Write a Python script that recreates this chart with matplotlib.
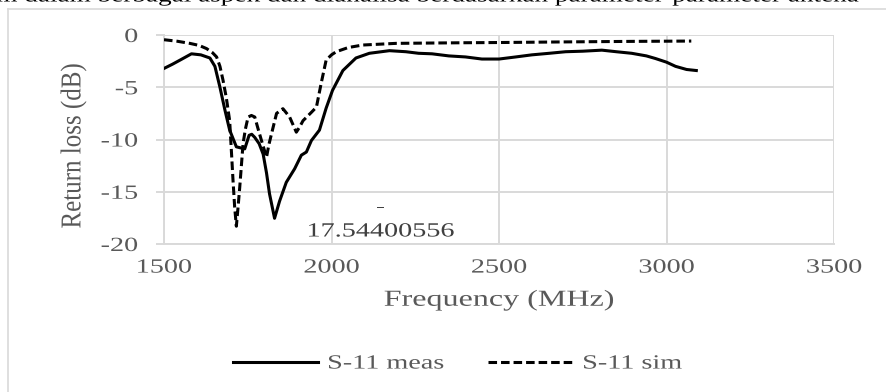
import matplotlib
matplotlib.use("Agg")
import matplotlib.pyplot as plt
from matplotlib.patheffects import AbstractPathEffect
from matplotlib.transforms import Affine2D
from matplotlib.lines import Line2D

# ---------------- data ----------------
freq_meas = [1500, 1525, 1548, 1565, 1582, 1610, 1637, 1652, 1667, 1682, 1696,
             1716, 1741, 1754, 1762, 1771, 1784, 1796, 1806, 1815, 1830, 1845,
             1865, 1890, 1910, 1925, 1940, 1964, 1984, 2003, 2034, 2073, 2113,
             2173, 2222, 2260, 2300, 2350, 2400, 2449, 2500, 2550, 2598, 2650,
             2699, 2750, 2807, 2850, 2896, 2940, 2967, 3000, 3027, 3060, 3089]
s11_meas = [-3.2, -2.8, -2.4, -2.1, -1.8, -1.9, -2.2, -3.0, -5.0, -7.2, -9.1,
            -10.7, -10.9, -9.6, -9.5, -9.8, -10.4, -11.4, -13.2, -15.2, -17.54, -15.9,
            -14.1, -12.8, -11.5, -11.2, -10.1, -9.1, -7.0, -5.3, -3.4, -2.2, -1.75,
            -1.5, -1.6, -1.75, -1.8, -2.0, -2.1, -2.3, -2.3, -2.1, -1.9, -1.75,
            -1.6, -1.55, -1.45, -1.6, -1.75, -2.0, -2.25, -2.6, -3.0, -3.3, -3.4]

freq_sim = [1500, 1540, 1577, 1605, 1627, 1645, 1657, 1667, 1676, 1686, 1696,
            1701, 1706, 1711, 1716, 1721, 1726, 1731, 1736, 1743, 1751, 1761,
            1771, 1781, 1791, 1806, 1813, 1821, 1836, 1855, 1875, 1895, 1905,
            1915, 1940, 1955, 1969, 1984, 2000, 2014, 2050, 2093, 2193, 2292,
            2400, 2500, 2700, 2900, 3074]
s11_sim = [-0.45, -0.6, -0.8, -1.0, -1.3, -1.7, -2.1, -3.0, -4.3, -6.0, -8.2,
           -11.0, -13.9, -16.5, -18.3, -16.5, -14.6, -12.5, -10.4, -9.0, -7.85, -7.7,
           -7.85, -9.0, -10.1, -11.7, -10.5, -9.45, -7.5, -7.05, -7.85, -9.3, -8.8,
           -8.2, -7.4, -6.9, -4.65, -2.4, -1.9, -1.6, -1.2, -0.96, -0.8, -0.77,
           -0.74, -0.72, -0.66, -0.61, -0.58]

series_names = ["S-11 meas", "S-11 sim"]
x_ticks = [1500, 2000, 2500, 3000, 3500]
y_ticks = [0, -5, -10, -15, -20]
x_title = "Frequency (MHz)"
y_title = "Return loss (dB)"
label_freq = 2147
label_lines = ["-", "17.54400556"]
label_y = [-16.55, -18.85]
top_text = "m dalam berbagai aspek dan dianalisa berdasarkan parameter-parameter antena"


class Stretch(AbstractPathEffect):
    """Stretch text glyphs (the reference image is horizontally stretched)."""

    def __init__(self, sx=1.4, sy=1.0, pivot="center"):
        super().__init__()
        self.sx, self.sy, self.pivot = sx, sy, pivot

    def draw_path(self, renderer, gc, tpath, affine, rgbFace=None):
        if len(tpath.vertices) == 0:
            return
        ext = tpath.get_extents()
        if self.pivot == "left":
            px = ext.x0
        elif self.pivot == "right":
            px = ext.x1
        else:
            px = 0.5 * (ext.x0 + ext.x1)
        py = 0.5 * (ext.y0 + ext.y1)
        t = (Affine2D().translate(-px, -py).scale(self.sx, self.sy)
             .translate(px, py) + affine)
        renderer.draw_path(gc, tpath, t, rgbFace)


plt.rcParams['font.family'] = ['Liberation Serif', 'DejaVu Serif']
plt.rcParams['axes.unicode_minus'] = False

W, H = 887, 392
fig = plt.figure(figsize=(W / 100, H / 100), dpi=100)
ax = fig.add_axes([164 / W, 1 - 244 / H, 670 / W, 209 / H])

GRID = '#d9d9d9'
TXT = '#595959'

ax.plot(freq_meas, s11_meas, color='black', lw=2.2, solid_joinstyle='round',
        label=series_names[0], zorder=3)
ax.plot(freq_sim, s11_sim, color='black', lw=2.2, linestyle=(0, (2.8, 1.3)),
        label=series_names[1], zorder=3)

ax.set_xlim(1500, 3500)
ax.set_ylim(-20, 0)
ax.set_xticks(x_ticks)
ax.set_yticks(y_ticks)
ax.grid(True, color=GRID, lw=1.4, zorder=0)
for s in ['top', 'right']:
    ax.spines[s].set_visible(False)
for s in ['left', 'bottom']:
    ax.spines[s].set_color(GRID)
    ax.spines[s].set_linewidth(1.4)
ax.tick_params(axis='x', length=0, pad=10.5, labelsize=14.5, labelcolor=TXT)
ax.tick_params(axis='y', length=5.8, width=1.4, color=GRID, pad=13,
               labelsize=14.5, labelcolor=TXT)
for lab in ax.get_xticklabels():
    lab.set_path_effects([Stretch(1.4, 1.0, 'center')])
for lab in ax.get_yticklabels():
    lab.set_path_effects([Stretch(1.4, 1.0, 'right')])

ax.set_xlabel(x_title, fontsize=16.5, color=TXT)
ax.xaxis.set_label_coords(0.5, -0.218)
ax.xaxis.label.set_path_effects([Stretch(1.4, 1.0, 'center')])
ax.set_ylabel(y_title, fontsize=18, color=TXT)
ax.yaxis.set_label_coords(-0.118, 0.47)
ax.yaxis.label.set_path_effects([Stretch(1.0, 1.15, 'center')])

for txt, yv in zip(label_lines, label_y):
    t = ax.text(label_freq, yv, txt, ha='center', va='center',
                fontsize=14.5, color='#404040', zorder=4)
    t.set_path_effects([Stretch(1.4, 1.0, 'center')])

leg = fig.legend(loc='center left', bbox_to_anchor=(233 / W, 1 - 364 / H),
                 ncol=2, frameon=False, fontsize=14.5, handlelength=4.2,
                 handletextpad=0.5, columnspacing=3.8, borderpad=0,
                 borderaxespad=0)
for t in leg.get_texts():
    t.set_color(TXT)
    t.set_path_effects([Stretch(1.4, 1.0, 'left')])

# outer chart-area border (left and top edges visible)
fig.add_artist(Line2D([8 / W, 8 / W], [0, 1 - 9 / H], transform=fig.transFigure,
                      color=GRID, lw=1.2))
fig.add_artist(Line2D([8 / W, 1], [1 - 9 / H, 1 - 9 / H], transform=fig.transFigure,
                      color=GRID, lw=1.2))

# line of body text above the chart, cut off by the top edge as in the reference
tt = fig.text(-0.004, 1 - 1.5 / H, top_text, ha='left', va='baseline',
              fontsize=14, color='black')
tt.set_path_effects([Stretch(1.4, 1.0, 'left')])

fig.savefig('out.png', dpi=100)
